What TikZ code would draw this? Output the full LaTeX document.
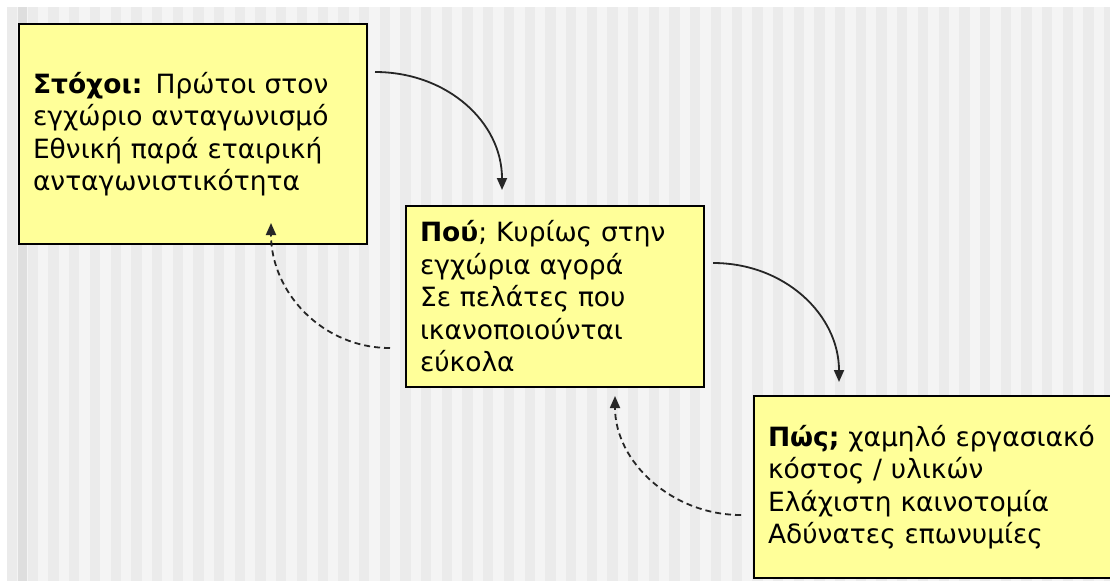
\documentclass[tikz,border=0pt]{standalone}
\usepackage{fontspec}
\setmainfont{DejaVu Sans}
\usetikzlibrary{arrows.meta}
\definecolor{boxyellow}{HTML}{FFFF99}
\definecolor{stripelight}{HTML}{F4F4F4}
\definecolor{stripedark}{HTML}{EBEBEB}

\begin{document}
\begin{tikzpicture}
[x=1pt,y=-1pt,%
  box/.style={draw=black,line width=2pt,fill=boxyellow,anchor=north west,align=left,%
    inner xsep=14pt,inner ysep=0pt,font=\fontsize{26.5}{32.5}\selectfont},%
  flow/.style={-{Triangle[width=10pt,length=12pt]},line width=1.8pt,draw=black!85},%
  back/.style={flow,dash pattern=on 6pt off 4pt}]
\clip (0,0) rectangle (1110,581);
\fill[white] (0,0) rectangle (1110,581);
\fill[stripelight] (7,7) rectangle (1110,581);
\foreach \x in {7,27.7,...,1110}
  \fill[stripedark] (\x,7) rectangle ++(10.3,574);
\fill[black!13] (18,7) rectangle (27,581);
% boxes
\node[box,text width=320pt,minimum height=220pt] (goals) at (18,23)
  {\textbf{Στόχοι:} Πρώτοι στον\\εγχώριο ανταγωνισμό\\Εθνική παρά εταιρική\\ανταγωνιστικότητα};
\node[box,text width=270pt,minimum height=181pt] (where) at (405,205)
  {\textbf{Πού}; Κυρίως στην\\εγχώρια αγορά\\Σε πελάτες που\\ικανοποιούνται\\εύκολα};
\node[box,text width=352pt,minimum height=182pt] (how) at (753,395)
  {\textbf{Πώς;} χαμηλό εργασιακό\\κόστος / υλικών\\Ελάχιστη καινοτομία\\Αδύνατες επωνυμίες};
% free ends of the arrows
\coordinate (goalsout) at (375,72);
\coordinate (wherein) at (502,190);
\coordinate (whereout) at (713,263);
\coordinate (howin) at (839,382);
\coordinate (whereback) at (390,348);
\coordinate (goalsin) at (271,223);
\coordinate (howback) at (741,515);
\coordinate (wherebackin) at (615,396);
% arrows
\draw[flow] (goalsout) .. controls (447,72) and (502,122) .. (wherein);
\draw[flow] (whereout) .. controls (785,263) and (839,315) .. (howin);
\draw[back] (whereback) .. controls (322,348) and (271,292) .. (goalsin);
\draw[back] (howback) .. controls (672,515) and (615,462) .. (wherebackin);
\end{tikzpicture}
\end{document}
